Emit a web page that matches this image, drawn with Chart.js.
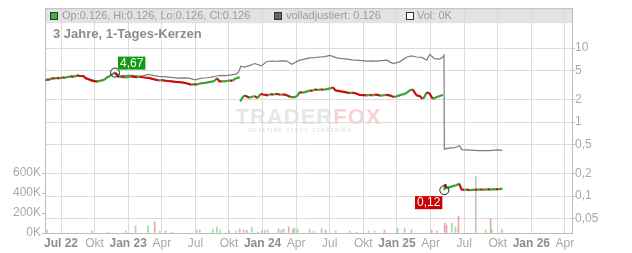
<!DOCTYPE html>
<html>
<head>
<meta charset="utf-8">
<script src="https://cdn.jsdelivr.net/npm/chart.js@4.4.1/dist/chart.umd.min.js"></script>
<style>
  html, body { margin: 0; padding: 0; background: #fff; }
  #wrap { width: 632px; height: 253px; }
</style>
</head>
<body>
<div id="wrap"><canvas id="chart" width="632" height="253"></canvas></div>
<script>
// candle closes (null = break between the three listing periods)
const candleDates = [
  '2022-05-20','2022-05-24','2022-05-31','2022-06-06','2022-06-13','2022-06-20','2022-06-27','2022-07-05',
  '2022-07-12','2022-07-20','2022-07-28','2022-08-04','2022-08-14','2022-08-22','2022-09-01','2022-09-08',
  '2022-09-15','2022-09-24','2022-10-01','2022-10-08','2022-10-15','2022-10-22','2022-10-29','2022-11-05',
  '2022-11-12','2022-11-19','2022-11-26','2022-12-02','2022-12-08','2022-12-15','2022-12-22','2023-01-01',
  '2023-01-09','2023-01-17','2023-01-25','2023-02-02','2023-02-10','2023-02-18','2023-02-26','2023-03-06',
  '2023-03-14','2023-03-23','2023-04-01','2023-04-09','2023-04-18','2023-04-28','2023-05-08','2023-05-17',
  '2023-05-25','2023-06-02','2023-06-10','2023-06-21','2023-06-28','2023-07-05','2023-07-12','2023-07-19',
  '2023-07-28','2023-08-07','2023-08-14','2023-08-21','2023-08-29','2023-09-05','2023-09-12','2023-09-19',
  '2023-09-26','2023-10-03','2023-10-10','2023-10-17','2023-10-24','2023-10-30','2023-10-31',
  '2023-11-01','2023-11-05','2023-11-09','2023-11-13','2023-11-19','2023-11-26','2023-12-03','2023-12-10',
  '2023-12-18','2023-12-26','2024-01-02','2024-01-09','2024-01-16','2024-01-23','2024-01-30','2024-02-06',
  '2024-02-13','2024-02-19','2024-02-26','2024-03-03','2024-03-10','2024-03-17','2024-03-28','2024-04-05',
  '2024-04-10','2024-04-17','2024-04-24','2024-05-01','2024-05-07','2024-05-14','2024-05-21','2024-05-29',
  '2024-06-07','2024-06-15','2024-06-26','2024-07-03','2024-07-09','2024-07-17','2024-07-24','2024-08-01',
  '2024-08-12','2024-08-19','2024-08-25','2024-09-01','2024-09-08','2024-09-15','2024-09-21','2024-10-01',
  '2024-10-10','2024-10-18','2024-10-26','2024-11-02','2024-11-09','2024-11-16','2024-11-23','2024-12-01',
  '2024-12-12','2024-12-18','2024-12-25','2025-01-01','2025-01-08','2025-01-15','2025-01-22','2025-01-29',
  '2025-02-05','2025-02-13','2025-02-19','2025-02-24','2025-03-02','2025-03-10','2025-03-15','2025-03-21',
  '2025-03-29','2025-04-07','2025-04-12','2025-04-18','2025-04-26','2025-05-04','2025-05-06',
  '2025-05-08','2025-05-10','2025-05-14','2025-05-20','2025-05-27','2025-06-03','2025-06-10','2025-06-18',
  '2025-06-24','2025-07-01','2025-07-08','2025-07-16','2025-07-23','2025-07-30','2025-08-07','2025-08-14',
  '2025-08-21','2025-08-28','2025-09-04','2025-09-11','2025-09-18','2025-09-25','2025-10-02','2025-10-09',
  '2025-10-14'
];
const candleClose = [
  3.62,3.80,3.74,3.95,3.88,3.97,3.90,4.04,
  3.98,4.10,4.15,4.08,4.28,4.20,4.18,3.88,
  3.80,3.64,3.58,3.52,3.60,3.66,3.78,4.06,
  4.20,4.45,4.67,4.22,4.06,4.12,4.02,4.10,
  4.15,4.08,4.06,4.10,4.04,3.98,3.97,3.84,
  3.76,3.66,3.70,3.64,3.60,3.55,3.50,3.47,
  3.44,3.40,3.32,3.19,3.26,3.22,3.30,3.37,
  3.40,3.47,3.52,3.58,3.93,3.58,3.55,3.55,
  3.60,3.66,3.62,3.85,3.95,4.06,null,
  1.90,2.06,2.20,2.30,2.22,2.13,2.20,2.25,
  2.11,2.41,2.36,2.34,2.30,2.39,2.35,2.41,
  2.38,2.34,2.37,2.34,2.26,2.18,2.18,2.30,
  2.54,2.50,2.54,2.60,2.68,2.64,2.77,2.72,
  2.77,2.74,2.82,2.86,2.97,2.68,2.64,2.60,
  2.54,2.50,2.47,2.50,2.47,2.40,2.34,2.32,
  2.30,2.33,2.30,2.36,2.34,2.28,2.30,2.33,
  2.30,2.24,2.18,2.24,2.30,2.36,2.41,2.52,
  2.68,2.77,2.50,2.30,2.25,2.06,2.20,2.54,
  2.41,2.06,2.12,2.18,2.25,2.34,null,
  0.120,0.145,0.126,0.131,0.134,0.137,0.140,0.147,
  0.123,0.121,0.122,0.120,0.121,0.122,0.121,0.123,
  0.122,0.122,0.124,0.122,0.123,0.124,0.123,0.125,
  0.126
];

// volladjustiert (grey line)
const adjDates = [
  '2022-05-20','2022-05-31','2022-06-13','2022-06-27','2022-07-12','2022-07-28','2022-08-14','2022-09-01',
  '2022-09-15','2022-10-01','2022-10-15','2022-10-29','2022-11-12','2022-11-26','2022-12-08','2022-12-22',
  '2023-01-09','2023-01-25','2023-02-08','2023-02-26','2023-03-10','2023-03-23','2023-04-05','2023-04-18',
  '2023-05-02','2023-05-17','2023-06-01','2023-06-14','2023-06-30','2023-07-18','2023-08-01','2023-08-14',
  '2023-08-29','2023-09-10','2023-09-24','2023-10-06','2023-10-20','2023-10-27','2023-11-03','2023-11-12',
  '2023-11-26','2023-12-10','2023-12-29','2024-01-12','2024-01-26','2024-02-09','2024-02-23','2024-03-06',
  '2024-03-19','2024-04-10','2024-04-24','2024-05-07','2024-05-21','2024-06-04','2024-06-18','2024-07-01',
  '2024-07-20','2024-08-04','2024-08-17','2024-09-01','2024-09-13','2024-09-27','2024-10-10','2024-10-24',
  '2024-11-06','2024-11-20','2024-12-04','2024-12-20','2025-01-08','2025-01-28','2025-02-10','2025-02-23',
  '2025-03-08','2025-03-21','2025-03-29','2025-04-12','2025-04-26','2025-05-04','2025-05-07','2025-05-08',
  '2025-05-20','2025-06-06','2025-06-19','2025-06-25','2025-07-16','2025-08-12','2025-09-09','2025-09-28',
  '2025-10-14'
];
const adjClose = [
  3.62,3.76,3.90,3.92,4.00,4.15,4.28,4.20,
  3.84,3.62,3.64,3.82,4.25,4.67,4.30,4.24,
  4.30,4.22,4.18,4.41,4.26,4.15,4.12,4.06,
  4.00,3.93,3.96,3.93,3.73,3.93,3.98,4.06,
  4.20,4.28,4.25,4.36,4.45,4.74,5.71,5.54,
  5.80,6.20,5.75,6.60,6.70,6.65,6.75,6.70,
  6.05,6.88,7.10,7.40,7.45,7.60,7.70,8.00,
  7.40,7.20,7.10,6.95,6.88,6.80,6.70,6.72,
  6.70,6.78,6.88,6.20,6.53,7.60,7.85,7.60,
  7.50,6.88,8.20,7.20,7.10,7.60,8.00,0.430,
  0.445,0.452,0.480,0.425,0.418,0.412,0.412,0.421,
  0.415
];

// volume
const volDates = [
  '2022-05-24','2022-09-24','2022-11-06','2022-12-25','2023-01-21','2023-02-24','2023-03-12','2023-03-26',
  '2023-04-12','2023-04-28','2023-07-05','2023-07-13','2023-08-18','2023-08-29','2023-09-07','2023-10-01',
  '2023-10-20','2023-10-30','2023-11-11','2023-11-19','2023-12-02','2023-12-18','2023-12-29','2024-01-07',
  '2024-01-15','2024-02-14','2024-02-22','2024-02-28','2024-03-11','2024-03-22','2024-03-27','2024-04-05',
  '2024-05-07','2024-05-18','2024-06-09','2024-06-20','2024-07-17','2024-08-25','2024-09-13','2024-10-15',
  '2024-11-01','2024-11-28','2025-01-03','2025-01-22','2025-02-10','2025-04-04','2025-04-18','2025-05-09',
  '2025-05-14','2025-05-28','2025-06-08','2025-06-16','2025-08-02','2025-08-29','2025-09-12','2025-09-15',
  '2025-10-12'
];
const volAmount = [
  30000,20000,10000,20000,70000,70000,110000,20000,
  20000,10000,30000,30000,40000,60000,30000,20000,
  20000,40000,30000,30000,60000,10000,20000,30000,
  30000,40000,30000,40000,60000,40000,50000,40000,
  40000,20000,45000,30000,20000,20000,10000,20000,
  20000,30000,50000,50000,30000,30000,20000,100000,
  80000,100000,60000,170000,570000,30000,140000,40000,
  40000
];
const volDir = [
  'up','down','up','up','up','up','down','up',
  'down','down','up','up','up','up','up','down',
  'up','down','down','down','up','up','down','up',
  'up','down','down','up','down','down','up','up',
  'up','up','up','down','down','up','down','up',
  'up','down','up','up','down','down','down','down',
  'down','up','up','down','flat','up','down','up',
  'up'
];

const xTickMonths = [0, 3, 6, 9, 12, 15, 18, 21, 24, 27, 30, 33, 36, 39, 42, 45];
const xTickLabels = ['Jul 22','Okt','Jan 23','Apr','Jul','Okt','Jan 24','Apr','Jul','Okt','Jan 25','Apr','Jul','Okt','Jan 26','Apr'];
const priceTicks = [0.05, 0.1, 0.2, 0.5, 1, 2, 5, 10];
const volTicks = [0, 200000, 400000, 600000];
const highMark = ['2022-11-26', 4.67];
const lowMark = ['2025-05-08', 0.12];
const legendText = ['Op:0.126, Hi:0.126, Lo:0.126, Cl:0.126', 'volladjustiert: 0.126', 'Vol: 0K'];
const titleText = '3 Jahre, 1-Tages-Kerzen';

// months since 1 Jul 2022
function toMonths(s) {
  const p = s.split('-').map(Number);
  return (p[0] - 2022) * 12 + (p[1] - 7) + (p[2] - 1) / 30.4;
}

const FONT = '"Liberation Sans", Arial, sans-serif';
Chart.defaults.font.family = FONT;
Chart.defaults.animation = false;

const UP = '#3aa52e';
const DOWN = '#c80f0f';
const gridColor = '#dcdcdc';
const axisColor = '#bdbdbd';

const candleData = candleDates.map((d, i) => ({ x: toMonths(d), y: candleClose[i] }));
const adjData = adjDates.map((d, i) => ({ x: toMonths(d), y: adjClose[i] }));
const volData = volDates.map((d, i) => ({ x: toMonths(d), y: volAmount[i] }));
const volColors = volDir.map(d => d === 'up' ? 'rgba(70,190,70,0.5)' : d === 'down' ? 'rgba(225,90,100,0.55)' : '#c4c4c4');

function drawMark(chart, mark, color, above) {
  const ctx = chart.ctx;
  const x = chart.scales.x.getPixelForValue(toMonths(mark[0]));
  const y = chart.scales.price.getPixelForValue(mark[1]);
  ctx.beginPath();
  ctx.arc(x, y, 4.5, 0, Math.PI * 2);
  ctx.strokeStyle = '#222';
  ctx.lineWidth = 1;
  ctx.stroke();
  const txt = mark[1].toFixed(2).replace('.', ',');
  ctx.font = '12px ' + FONT;
  const w = ctx.measureText(txt).width + 4;
  const bx = above ? x + 3 : x - 2 - w;
  const by = above ? y - 16 : y + 6;
  ctx.fillStyle = color;
  ctx.fillRect(bx, by, w, 13);
  ctx.fillStyle = '#fff';
  ctx.textAlign = 'center';
  ctx.textBaseline = 'middle';
  ctx.fillText(txt, bx + w / 2, by + 7);
}

const decor = {
  id: 'decor',
  beforeDraw(chart) {
    const { ctx, chartArea: a } = chart;
    ctx.save();
    ctx.fillStyle = '#fff';
    ctx.fillRect(0, 0, chart.width, chart.height);
    ctx.fillStyle = '#e3e3e3';
    ctx.fillRect(a.left, a.top, a.right - a.left, 15);
    // watermark
    const cx = (a.left + a.right) / 2;
    ctx.font = 'bold 22px ' + FONT;
    ctx.letterSpacing = '1px';
    const w1 = ctx.measureText('TRADER').width;
    const w2 = ctx.measureText('FOX').width;
    const x0 = cx - (w1 + w2) / 2;
    ctx.textBaseline = 'alphabetic';
    ctx.fillStyle = '#e6e6e6';
    ctx.fillText('TRADER', x0, 124);
    ctx.fillStyle = '#f9d2d2';
    ctx.fillText('FOX', x0 + w1, 124);
    ctx.font = 'bold 5px ' + FONT;
    ctx.letterSpacing = '1.2px';
    ctx.textAlign = 'center';
    ctx.fillStyle = '#e6e6e6';
    ctx.fillText('REALTIME STOCK SCREENING', cx - 8, 132);
    ctx.restore();
  },
  afterDatasetsDraw(chart) {
    chart.ctx.save();
    drawMark(chart, highMark, '#109a10', true);
    drawMark(chart, lowMark, '#cc0000', false);
    chart.ctx.restore();
  },
  afterDraw(chart) {
    const { ctx, chartArea: a } = chart;
    ctx.save();
    ctx.strokeStyle = axisColor;
    ctx.lineWidth = 1;
    ctx.beginPath();
    ctx.moveTo(a.left, a.top + 0.5);
    ctx.lineTo(a.right, a.top + 0.5);
    ctx.stroke();
    // legend row
    ctx.font = '11px ' + FONT;
    ctx.textBaseline = 'middle';
    const sq = [50, 274, 406], tx = [62, 286, 417], fills = ['#3cb43c', '#666666', '#ffffff'];
    for (let i = 0; i < 3; i++) {
      ctx.fillStyle = fills[i];
      ctx.fillRect(sq[i], 12, 7, 7);
      ctx.strokeStyle = '#333';
      ctx.strokeRect(sq[i] + 0.5, 12.5, 7, 7);
      ctx.fillStyle = '#9c9c9c';
      ctx.fillText(legendText[i], tx[i], 16);
    }
    // title
    ctx.font = 'bold 13px ' + FONT;
    ctx.textBaseline = 'alphabetic';
    ctx.fillStyle = '#8c8c8c';
    ctx.fillText(titleText, 53, 38);
    ctx.restore();
  }
};

new Chart(document.getElementById('chart'), {
  type: 'line',
  data: {
    datasets: [
      {
        label: 'Kerzen',
        data: candleData,
        yAxisID: 'price',
        borderWidth: 2.2,
        pointRadius: 0,
        spanGaps: false,
        borderColor: UP,
        segment: {
          borderColor: c => c.p1.parsed.y >= c.p0.parsed.y ? UP : DOWN
        },
        order: 1
      },
      {
        label: 'volladjustiert',
        data: adjData,
        yAxisID: 'price',
        borderColor: '#7c7c7c',
        borderWidth: 1.2,
        pointRadius: 0,
        order: 2
      },
      {
        type: 'bar',
        label: 'Vol',
        data: volData,
        yAxisID: 'vol',
        backgroundColor: volColors,
        barThickness: 1,
        order: 3
      }
    ]
  },
  options: {
    responsive: false,
    devicePixelRatio: 1,
    layout: { padding: { top: 8, left: 0, right: 0, bottom: 0 } },
    plugins: { legend: { display: false }, tooltip: { enabled: false } },
    scales: {
      x: {
        type: 'linear',
        offset: false,
        min: -1.43,
        max: 45.63,
        afterBuildTicks: s => { s.ticks = xTickMonths.map(v => ({ value: v })); },
        afterFit: s => { s.height = 20; },
        grid: { color: gridColor, drawTicks: false, offset: false },
        border: { color: axisColor },
        ticks: {
          autoSkip: false,
          maxRotation: 0,
          padding: 3,
          callback: (v, i) => xTickLabels[i],
          font: c => ({ size: 12, weight: /\d/.test(xTickLabels[c.index] || '') ? 'bold' : 'normal' }),
          color: c => /\d/.test(xTickLabels[c.index] || '') ? '#8e8e8e' : '#a8a8a8'
        }
      },
      price: {
        type: 'logarithmic',
        position: 'right',
        min: 0.03163,
        max: 34.72,
        afterBuildTicks: s => { s.ticks = priceTicks.map(v => ({ value: v })); },
        afterFit: s => { s.width = 60; },
        grid: { color: gridColor, tickLength: 3, tickColor: axisColor },
        border: { color: axisColor },
        ticks: {
          padding: 0,
          font: { size: 12 },
          color: '#a8a8a8',
          callback: v => String(v).replace('.', ',')
        }
      },
      vol: {
        type: 'linear',
        position: 'left',
        min: 0,
        max: 2250000,
        afterBuildTicks: s => { s.ticks = volTicks.map(v => ({ value: v })); },
        afterFit: s => { s.width = 45; },
        grid: { drawOnChartArea: false, tickLength: 3, color: axisColor },
        border: { color: axisColor },
        ticks: {
          padding: 1,
          font: { size: 12 },
          color: '#a8a8a8',
          callback: v => (v / 1000) + 'K'
        }
      }
    }
  },
  plugins: [decor]
});
</script>
</body>
</html>
